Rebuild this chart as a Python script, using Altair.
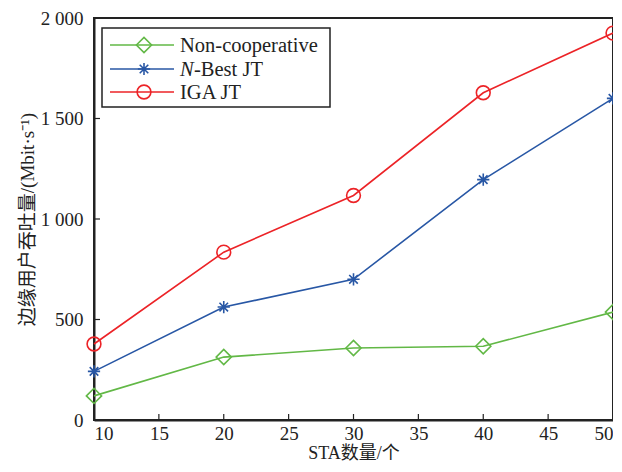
import altair as alt
import pandas as pd

sta = [10, 20, 30, 40, 50]
non_coop = [120, 313, 358, 367, 537]
nbest = [242, 562, 700, 1196, 1600]
iga = [378, 835, 1117, 1628, 1925]

series_names = ["Non-cooperative", "N-Best JT", "IGA JT"]
colors = ["#62b846", "#2857a5", "#ec2327"]
x_ticks = [10, 15, 20, 25, 30, 35, 40, 45, 50]
y_ticks = [0, 500, 1000, 1500, 2000]

FONT = "'Liberation Serif', 'Times New Roman', 'Noto Sans CJK SC', serif"
W, H = 519, 402

rows = []
for name, vals in zip(series_names, [non_coop, nbest, iga]):
    for x, v in zip(sta, vals):
        rows.append({"sta": x, "val": v, "series": name})
df = pd.DataFrame(rows)

xs = alt.Scale(domain=[10, 50], nice=False, zero=False)
ys = alt.Scale(domain=[0, 2000], nice=False)

xaxis = alt.Axis(values=x_ticks, ticks=False, grid=False, labelFont=FONT, labelFontSize=19,
                 labelColor="#222", domainColor="#222", domainWidth=2, labelPadding=4,
                 title="STA数量/个", titleFont=FONT, titleFontSize=18, titleFontWeight="normal",
                 titleColor="#222", titlePadding=1)
yaxis = alt.Axis(values=y_ticks, ticks=False, grid=False, labelFont=FONT, labelFontSize=19,
                 labelColor="#222", domainColor="#222", domainWidth=2, labelPadding=11,
                 labelExpr="replace(format(datum.value, ','), ',', ' ')",
                 title="边缘用户吞吐量/(Mbit·s⁻¹)", titleFont=FONT, titleFontSize=19,
                 titleFontWeight="normal", titleColor="#222", titlePadding=3)

shape_map = {
    "Non-cooperative": "diamond",
    "N-Best JT": "M0,-1L0,1M-1,0L1,0M-0.7,-0.7L0.7,0.7M-0.7,0.7L0.7,-0.7",
    "IGA JT": "circle",
}
size_map = {"Non-cooperative": 230, "N-Best JT": 150, "IGA JT": 190}

layers = []
# inward ticks
tick_x = pd.DataFrame({"t": x_ticks[1:-1]})
layers.append(alt.Chart(tick_x).mark_rule(color="#222", strokeWidth=1.2).encode(
    x=alt.X("t:Q", scale=xs, axis=xaxis), y=alt.value(H), y2=alt.value(H - 6)))
tick_y = pd.DataFrame({"t": y_ticks[1:-1]})
layers.append(alt.Chart(tick_y).mark_rule(color="#222", strokeWidth=1.2).encode(
    y=alt.Y("t:Q", scale=ys, axis=yaxis), x=alt.value(0), x2=alt.value(6)))

for name, col in zip(series_names, colors):
    sub = df[df.series == name]
    base = alt.Chart(sub).encode(x=alt.X("sta:Q", scale=xs, axis=xaxis),
                                 y=alt.Y("val:Q", scale=ys, axis=yaxis))
    layers.append(base.mark_line(color=col, strokeWidth=1.6))
    layers.append(base.mark_point(shape=shape_map[name], size=size_map[name], color=col,
                                  filled=False, strokeWidth=1.6, opacity=1))

# legend
lx0, ly0, lx1, ly1 = 8, 10, 236, 89
leg_box = pd.DataFrame({"a": [0]})
layers.append(alt.Chart(leg_box).mark_rect(fill="white", stroke="#222", strokeWidth=1.5).encode(
    x=alt.value(lx0), x2=alt.value(lx1), y=alt.value(ly0), y2=alt.value(ly1)))
row_y = [27, 51, 74]
LFS = 20.5
for i, (name, col) in enumerate(zip(series_names, colors)):
    d = pd.DataFrame({"label": [name]})
    c = alt.Chart(d)
    layers.append(c.mark_rule(color=col, strokeWidth=1.6).encode(
        x=alt.value(16), x2=alt.value(80), y=alt.value(row_y[i])))
    layers.append(c.mark_point(shape=shape_map[name], size=size_map[name], color=col,
                               filled=False, strokeWidth=1.6, opacity=1).encode(
        x=alt.value(50), y=alt.value(row_y[i])))
    if name == "N-Best JT":
        layers.append(alt.Chart(pd.DataFrame({"label": ["N"]})).mark_text(
            font=FONT, fontSize=LFS, fontStyle="italic", align="left", baseline="middle",
            color="#222").encode(text="label:N", x=alt.value(86), y=alt.value(row_y[i] + 1)))
        layers.append(alt.Chart(pd.DataFrame({"label": ["-Best JT"]})).mark_text(
            font=FONT, fontSize=LFS, align="left", baseline="middle",
            color="#222").encode(text="label:N", x=alt.value(100), y=alt.value(row_y[i] + 1)))
    else:
        layers.append(c.mark_text(font=FONT, fontSize=LFS, align="left", baseline="middle",
                                  color="#222").encode(
            text="label:N", x=alt.value(86), y=alt.value(row_y[i] + 1)))

chart = alt.layer(*layers).properties(
    width=W, height=H, autosize="none",
    padding={"left": 86, "top": 10, "right": 0, "bottom": 44},
    background="white",
).configure_view(stroke="#222", strokeWidth=2)

chart.save("out.html", embed_options={"renderer": "svg", "actions": False})
